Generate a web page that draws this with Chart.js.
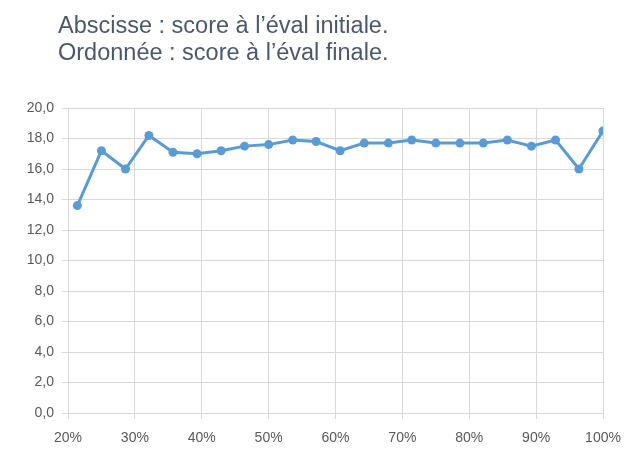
<!DOCTYPE html>
<html>
<head>
<meta charset="utf-8">
<script src="https://cdn.jsdelivr.net/npm/chart.js@4"></script>
<style>
  body { margin: 0; background: #fff; }
  #wrap { position: relative; width: 644px; height: 464px; }
  #titre {
    position: absolute; left: 58px; top: 12px;
    font-family: "Liberation Sans", Arial, sans-serif; font-size: 23.5px; line-height: 27px;
    color: #4a586d;
  }
  canvas { position: absolute; left: 0; top: 0; }
</style>
</head>
<body>
<div id="wrap">
  <canvas id="graphe" width="644" height="464"></canvas>
  <div id="titre">Abscisse : score à l’éval initiale.<br>Ordonnée : score à l’éval finale.</div>
</div>
<script>
// score initial (%) et score final (/20)
const scoreInitial = [21.4, 25.0, 28.6, 32.1, 35.7, 39.3, 42.9, 46.4, 50.0, 53.6, 57.1, 60.7,
                      64.3, 67.9, 71.4, 75.0, 78.6, 82.1, 85.7, 89.3, 92.9, 96.4, 100];
const scoreFinal = [13.6, 17.2, 16.0, 18.2, 17.1, 17.0, 17.2, 17.5, 17.6, 17.9, 17.8, 17.2,
                    17.7, 17.7, 17.9, 17.7, 17.7, 17.7, 17.9, 17.5, 17.9, 16.0, 18.5];
const ticksX = [20, 30, 40, 50, 60, 70, 80, 90, 100];
const ticksY = [0, 2, 4, 6, 8, 10, 12, 14, 16, 18, 20];

const points = scoreInitial.map((x, i) => ({ x: x, y: scoreFinal[i] }));

const grille = '#d9d9d9';
const police = { family: '"Liberation Sans", Arial, sans-serif', size: 14 };

new Chart(document.getElementById('graphe'), {
  type: 'scatter',
  data: {
    datasets: [{
      data: points,
      showLine: true,
      borderColor: '#5b9bd5',
      backgroundColor: '#5b9bd5',
      borderWidth: 3,
      pointRadius: 4.5,
      pointBorderWidth: 0,
      tension: 0
    }]
  },
  options: {
    responsive: false,
    animation: false,
    layout: { padding: { top: 108, right: 41, bottom: 19, left: 0 } },
    plugins: { legend: { display: false }, tooltip: { enabled: false } },
    scales: {
      x: {
        type: 'linear',
        min: 20, max: 100,
        afterBuildTicks: (axis) => { axis.ticks = ticksX.map(v => ({ value: v })); },
        afterFit: (axis) => { axis.height = 32; },
        ticks: { color: '#595959', font: police, padding: 11, callback: (v) => v + '%' },
        grid: { color: grille, lineWidth: 1, tickLength: 6 },
        border: { color: grille }
      },
      y: {
        min: 0, max: 20,
        afterBuildTicks: (axis) => { axis.ticks = ticksY.map(v => ({ value: v })); },
        afterFit: (axis) => { axis.width = 68; },
        ticks: { color: '#595959', font: police, padding: 8, callback: (v) => v.toFixed(1).replace('.', ',') },
        grid: { color: grille, lineWidth: 1, tickLength: 6 },
        border: { color: grille }
      }
    }
  }
});
</script>
</body>
</html>
